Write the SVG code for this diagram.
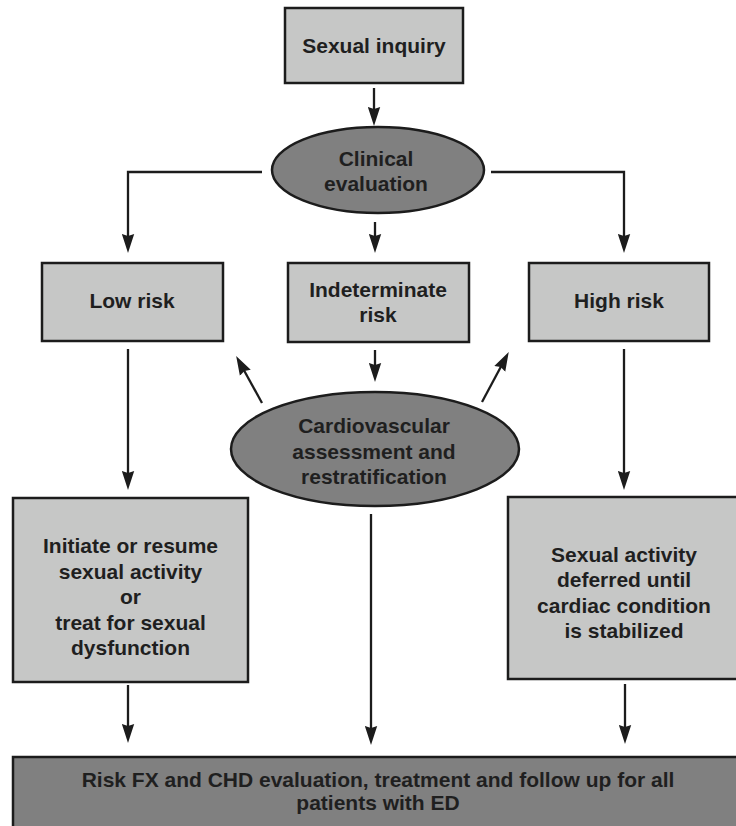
<svg xmlns="http://www.w3.org/2000/svg" width="736" height="826" viewBox="0 0 736 826">
  <defs>
    <style>
      .box { fill: #c6c7c6; stroke: #1c1c1c; stroke-width: 2.5; }
      .dark { fill: #808080; stroke: #1c1c1c; stroke-width: 2.5; }
      .lbl { font-family: "Liberation Sans", Arial, sans-serif; font-weight: bold; font-size: 21px; fill: #1f1f1f; text-anchor: middle; }
      .edge { fill: none; stroke: #1c1c1c; stroke-width: 2.3; marker-end: url(#head); }
    </style>
    <marker id="head" markerUnits="userSpaceOnUse" viewBox="0 0 19 13" refX="10" refY="6.5" markerWidth="19" markerHeight="13" orient="auto">
      <path d="M0,0.3 L19,6.5 L0,12.7 L2,6.5 Z" fill="#1c1c1c"/>
    </marker>
  </defs>
  <rect width="736" height="826" fill="#ffffff"/>

  <g id="connectors">
    <path class="edge" d="M374,88 V117"/>
    <path class="edge" d="M262,172 H128 V244"/>
    <path class="edge" d="M491,172 H624 V244"/>
    <path class="edge" d="M375,222 V244"/>
    <path class="edge" d="M128,349 V481"/>
    <path class="edge" d="M624,349 V481"/>
    <path class="edge" d="M375,350 V373"/>
    <path class="edge" d="M262,403 L240.5,364"/>
    <path class="edge" d="M482,402 L504.5,360"/>
    <path class="edge" d="M128,685 V734"/>
    <path class="edge" d="M371,514 V736"/>
    <path class="edge" d="M625,684 V735"/>
  </g>

  <g id="sexual-inquiry">
    <rect class="box" x="285" y="8" width="178" height="75"/>
    <text class="lbl" x="374" y="53">Sexual inquiry</text>
  </g>

  <g id="clinical-evaluation">
    <ellipse class="dark" cx="378" cy="170" rx="106" ry="43"/>
    <text class="lbl" x="376" y="166">Clinical</text>
    <text class="lbl" x="376" y="191">evaluation</text>
  </g>

  <g id="low-risk">
    <rect class="box" x="42" y="263" width="181" height="78"/>
    <text class="lbl" x="132" y="308">Low risk</text>
  </g>

  <g id="indeterminate-risk">
    <rect class="box" x="288" y="263" width="181" height="79"/>
    <text class="lbl" x="378" y="297">Indeterminate</text>
    <text class="lbl" x="378" y="322">risk</text>
  </g>

  <g id="high-risk">
    <rect class="box" x="529" y="263" width="180" height="78"/>
    <text class="lbl" x="619" y="308">High risk</text>
  </g>

  <g id="cardiovascular-assessment">
    <ellipse class="dark" cx="375" cy="449" rx="144" ry="57"/>
    <text class="lbl" x="374" y="433">Cardiovascular</text>
    <text class="lbl" x="374" y="459">assessment and</text>
    <text class="lbl" x="374" y="484">restratification</text>
  </g>

  <g id="initiate-activity">
    <rect class="box" x="13" y="498" width="235" height="184"/>
    <text class="lbl" x="130.5" y="553">Initiate or resume</text>
    <text class="lbl" x="130.5" y="579">sexual activity</text>
    <text class="lbl" x="130.5" y="604">or</text>
    <text class="lbl" x="130.5" y="630">treat for sexual</text>
    <text class="lbl" x="130.5" y="655">dysfunction</text>
  </g>

  <g id="activity-deferred">
    <rect class="box" x="508" y="497" width="240" height="182"/>
    <text class="lbl" x="624" y="562">Sexual activity</text>
    <text class="lbl" x="624" y="587">deferred until</text>
    <text class="lbl" x="624" y="613">cardiac condition</text>
    <text class="lbl" x="624" y="638">is stabilized</text>
  </g>

  <g id="risk-evaluation">
    <rect class="dark" x="13" y="757" width="740" height="80"/>
    <text class="lbl" x="378" y="787">Risk FX and CHD evaluation, treatment and follow up for all</text>
    <text class="lbl" x="378" y="810">patients with ED</text>
  </g>
</svg>
